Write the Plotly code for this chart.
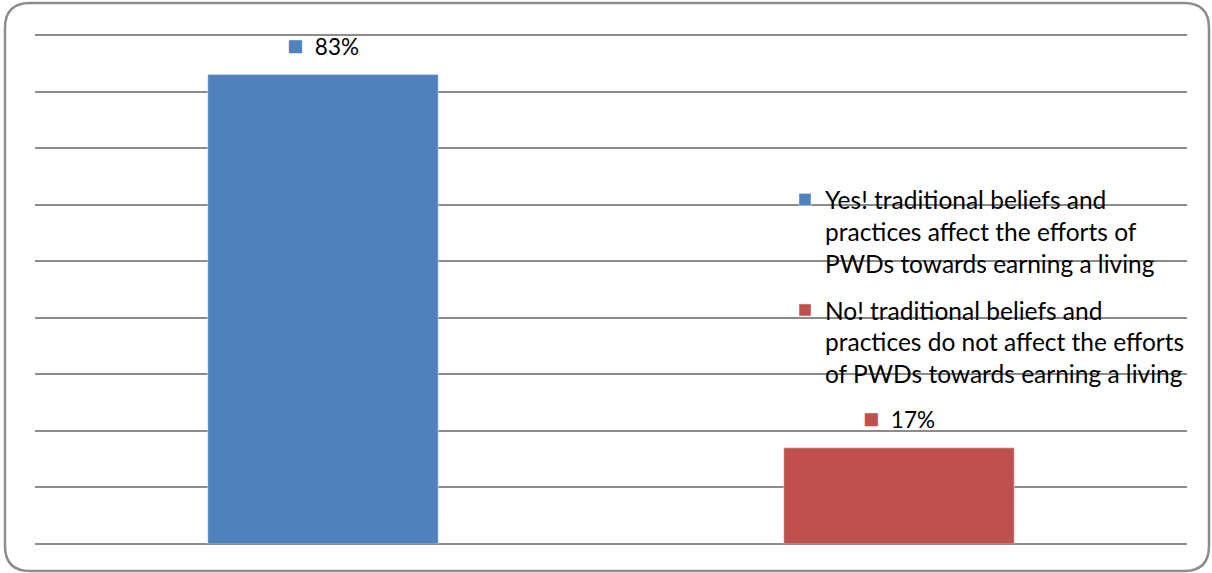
import plotly.graph_objects as go

# Survey result: do traditional beliefs affect PWDs earning a living?
series_names = [
    "Yes! traditional beliefs and<br>practices affect the efforts of<br>PWDs towards earning a living",
    "No! traditional beliefs and<br>practices do not affect the efforts<br>of PWDs towards earning a living",
]
categories = ["Yes", "No"]
shares = [0.83, 0.17]
colors = ["#4F81BD", "#C0504D"]

W, H = 1212, 573
M = {"l": 35, "r": 25, "t": 32, "b": 29}
Y_TOP = 0.9053  # a hair above 90% so the top gridline is still drawn
FONT = "Lato, 'Open Sans', sans-serif"


def to_paper(px, py):
    """Convert a pixel position on the page to paper coordinates."""
    pw = W - M["l"] - M["r"]
    ph = H - M["t"] - M["b"]
    return (px - M["l"]) / pw, (H - M["b"] - py) / ph


def rounded_frame(x0, y0, x1, y1, r):
    pts = [
        ("M", x0 + r, y0), ("L", x1 - r, y0), ("Q", x1, y0, x1, y0 + r),
        ("L", x1, y1 - r), ("Q", x1, y1, x1 - r, y1), ("L", x0 + r, y1),
        ("Q", x0, y1, x0, y1 - r), ("L", x0, y0 + r), ("Q", x0, y0, x0 + r, y0),
    ]
    parts = []
    for p in pts:
        cmd, coords = p[0], p[1:]
        xy = []
        for i in range(0, len(coords), 2):
            a, b = to_paper(coords[i], coords[i + 1])
            xy.append(f"{a:.5f},{b:.5f}")
        parts.append(cmd + " ".join(xy))
    return " ".join(parts) + " Z"


fig = go.Figure()
for i, (name, cat, val, col) in enumerate(zip(series_names, categories, shares, colors)):
    fig.add_trace(go.Bar(
        x=[cat], y=[val], name=name, marker_color=col, width=0.4,
        legendgroup=f"g{i}", hoverinfo="y",
    ))
    # data label with its legend key, as Excel draws it
    fig.add_annotation(
        x=cat, y=val, yanchor="bottom", yshift=12, showarrow=False,
        text=f"<span style='color:{col};font-size:27px'>■</span>  {val:.0%}",
        font={"family": FONT, "size": 22.5, "color": "#000000"},
    )

fig.update_xaxes(showticklabels=False, showgrid=False, showline=False, zeroline=False)
fig.update_yaxes(
    range=[0, Y_TOP], tickvals=[i / 10 for i in range(10)],
    showticklabels=False, showline=False,
    showgrid=True, gridcolor="#8C8C8C", gridwidth=1.5,
    zeroline=True, zerolinecolor="#8C8C8C", zerolinewidth=1.5,
)
fig.update_layout(
    width=W, height=H, margin=M,
    plot_bgcolor="white", paper_bgcolor="white",
    barmode="group", bargap=0.6,
    font={"family": FONT, "size": 24, "color": "#000000"},
    showlegend=True,
    legend={
        "x": to_paper(785, 0)[0], "y": to_paper(0, 177)[1],
        "xanchor": "left", "yanchor": "top", "valign": "top",
        "bgcolor": "rgba(0,0,0,0)", "tracegroupgap": 12,
        "font": {"family": FONT, "size": 24.5, "color": "#000000"},
        "itemwidth": 30,
    },
    shapes=[{
        "type": "path", "xref": "paper", "yref": "paper",
        "path": rounded_frame(5, 3, 1209, 571, 25),
        "line": {"color": "#8C8C8C", "width": 2.5},
        "layer": "above",
    }],
)

fig.write_html(
    "out.html",
    config={"displayModeBar": False},
    post_script="document.body.style.margin='0';",
)
